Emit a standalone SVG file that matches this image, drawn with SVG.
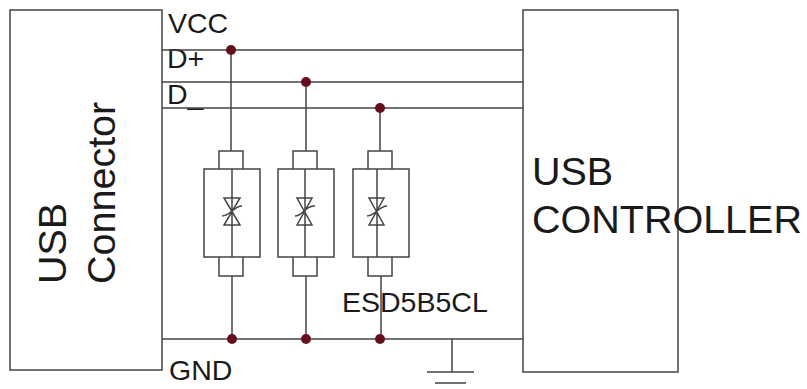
<svg xmlns="http://www.w3.org/2000/svg" width="807" height="389" viewBox="0 0 807 389">
<style>
.box{fill:none;stroke:#444;stroke-width:1.5}
.w{fill:none;stroke:#444;stroke-width:1.5}
.j{fill:#660f1c}
text{font-family:"Liberation Sans",Arial,sans-serif;fill:#1a1a1a}
.s{font-size:28.5px}
.l{font-size:39.5px}
</style>
<rect width="807" height="389" fill="#fff"/>
<g id="connector"><rect class="box" x="10" y="10" width="152" height="360"/>
<text class="l" transform="translate(66,284) rotate(-90)">USB</text>
<text class="l" transform="translate(115,284) rotate(-90)">Connector</text></g>
<g id="controller"><rect class="box" x="523" y="10" width="155" height="362"/>
<text class="l" x="532" y="185">USB</text>
<text class="l" x="532" y="233">CONTROLLER</text></g>
<g id="labels">
<text class="s" x="168" y="33">VCC</text>
<text class="s" x="167" y="68">D+</text>
<text class="s" x="167" y="104">D_</text>
<text class="s" x="169" y="380">GND</text>
<text class="s" x="342" y="312">ESD5B5CL</text>
</g>
<g id="connectors">
<path class="w" d="M162 50H523M162 82H523M162 108H523M162 339H523M231 50V151M306 82V151M380 108V151M232 276V339M306 276V339M381 276V339M452 339V372M427 372H474M435 383H466"/>
<circle class="j" cx="231" cy="50" r="5"/><circle class="j" cx="306" cy="82" r="5"/><circle class="j" cx="380" cy="108" r="5"/>
<circle class="j" cx="232" cy="339" r="5"/><circle class="j" cx="306" cy="339" r="5"/><circle class="j" cx="380" cy="339" r="5"/>
</g>
<g id="esd1"><path class="box" d="M219 151h24v18h-24zM204 169h56v88h-56zM219 257h24v19h-24zM232 169v88M224 198h16l-16 27h16zM222 216q4 0 10-5t10-5"/></g>
<g id="esd2"><path class="box" d="M293 151h24v18h-24zM278 169h56v88h-56zM293 257h24v19h-24zM305 169v88M297 198h15l-15 27h15zM295 216q4 0 9-5t11-5"/></g>
<g id="esd3"><path class="box" d="M368 151h24v18h-24zM353 169h56v88h-56zM368 257h24v19h-24zM377 169v88M369 198h15l-15 27h15zM367 216q4 0 10-5t10-5"/></g>
</svg>
